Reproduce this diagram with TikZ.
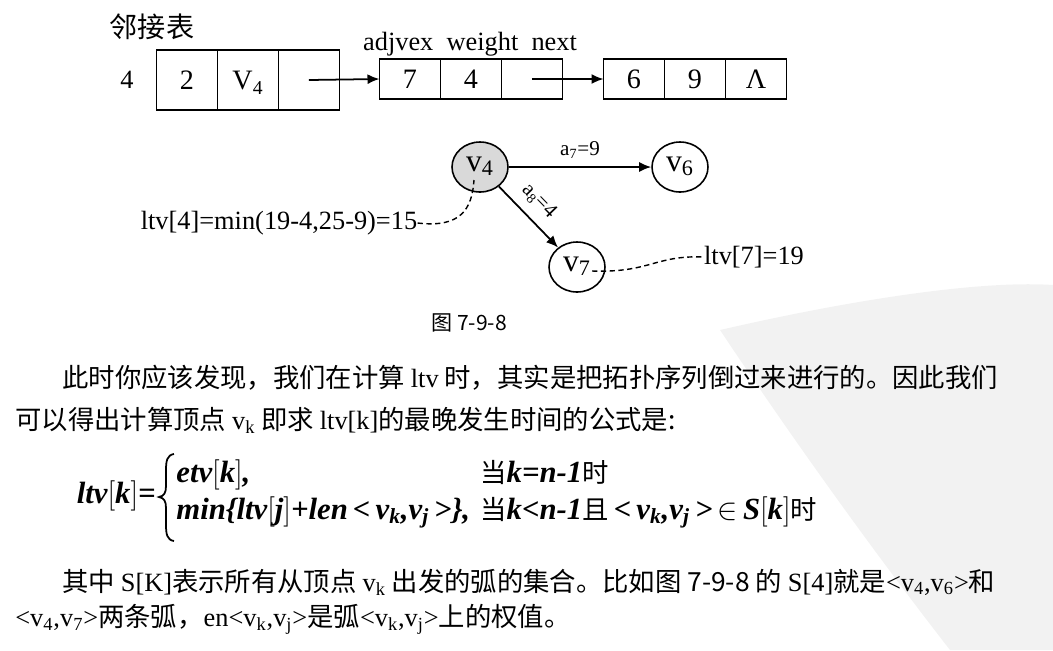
\documentclass[tikz,border=0pt]{standalone}
\usepackage{fontspec}
\setmainfont{Liberation Serif}
\newfontfamily\cjk{Noto Sans CJK SC}
\usetikzlibrary{positioning,shapes.geometric,arrows.meta}
\newcommand\zhn[1]{{\cjk\mdseries\upshape\fontsize{15}{17}\selectfont #1}}
\newcommand\lat[1]{{\rmfamily #1}}
\tikzset{
	cell/.style={draw,line width=0.9pt,outer sep=0pt,inner sep=0pt,minimum width=1.22cm,minimum height=0.8cm,text height=11pt,text depth=0pt,font=\fontsize{16}{18}\selectfont},
	vex/.style={draw,ellipse,line width=0.9pt,inner sep=0pt,minimum width=1.12cm,minimum height=1.0cm,text height=8pt,text depth=3pt,font=\fontsize{18}{20}\selectfont},
	lbl/.style={inner sep=0pt,font=\fontsize{15}{18}\selectfont},
	zhlbl/.style={inner sep=0pt,font=\cjk\fontsize{16}{18}\selectfont},
	para/.style={inner sep=0pt,anchor=west,font=\cjk\fontsize{15}{18}\selectfont},
	fml/.style={inner sep=0pt,anchor=base west,font=\bfseries\itshape\fontsize{17.5}{20}\selectfont},
	arr/.style={line width=1pt},
	lead/.style={dashed,line width=0.8pt,dash pattern=on 3pt off 2pt}
}
\begin{document}
\begin{tikzpicture}[x=0.02cm,y=-0.02cm,>={Latex[length=2.4mm,width=2mm]}]
	\useasboundingbox (0,0) rectangle (1053,650);
	\fill[gray!10] (720,330) .. controls (850,300) and (980,280) .. (1053,285) -- (1053,650) -- (950,650) .. controls (880,560) and (800,450) .. cycle;
	\coordinate (H) at (187,80);
	\coordinate (E1) at (410,79);
	\coordinate (E2) at (634,79);
	\node[cell,minimum height=1.2cm] (h1) at (H) {2};
	\node[cell,minimum height=1.2cm,right=0pt of h1] (h2) {V\textsubscript{4}};
	\node[cell,minimum height=1.2cm,right=0pt of h2] (h3) {};
	\node[cell] (e1a) at (E1) {7};
	\node[cell,right=0pt of e1a] (e1b) {4};
	\node[cell,right=0pt of e1b] (e1c) {};
	\node[cell] (e2a) at (E2) {6};
	\node[cell,right=0pt of e2a] (e2b) {9};
	\node[cell,right=0pt of e2b] (e2c) {Λ};
	\node[lbl] (idx) at (127,80) {4};
	\node[zhlbl] (title) at (152,27) {邻接表};
	\node[lbl] (fields) at (470,44) {adjvex\ \ weight\ \ next};
	\draw[arr,->] (h3.center) -- (e1a.west);
	\draw[arr,->] (e1c.center) -- (e2a.west);
	\node[vex,fill=gray!30] (v4) at (480,167) {v\textsubscript{4}};
	\node[vex] (v6) at (680,167) {v\textsubscript{6}};
	\node[vex] (v7) at (577,267) {v\textsubscript{7}};
	\draw[arr,->] (v4) -- (v6) node[midway,above=1pt,font=\fontsize{12}{13}\selectfont] {a\textsubscript{7}=9};
	\draw[arr,->] (v4) -- (v7) node[pos=0.45,above=2pt,sloped,font=\fontsize{12}{13}\selectfont] {a\textsubscript{8}=4};
	\node[lbl] (l4) at (279,223) {ltv[4]=min(19-4,25-9)=15};
	\node[lbl] (l7) at (754,257) {ltv[7]=19};
	\coordinate (d4) at (474,180);
	\coordinate (d7) at (592,271);
	\draw[lead] (l4.east) .. controls (460,228) and (472,210) .. (d4);
	\draw[lead] (d7) .. controls (650,273) and (655,255) .. (l7.west);
	\node[zhlbl,font=\cjk\fontsize{12}{14}\selectfont] (cap) at (469,323) {图 7-9-8};
	\node[para] (t1) at (62,378) {此时你应该发现，我们在计算 \lat{ltv} 时，其实是把拓扑序列倒过来进行的。因此我们};
	\node[para] (t2) at (15,420) {可以得出计算顶点 \lat{v\textsubscript{k}} 即求 \lat{ltv[k]}的最晚发生时间的公式是:};
	\node[fml,anchor=base east] (lhs) at (156,503) {ltv$\bigl[$k$\bigr]$=};
	\draw[line width=1pt] (174,454) .. controls (167,455) and (166,461) .. (166,470) -- (166,486) .. controls (166,493) and (164,496) .. (159,497) .. controls (164,498) and (166,501) .. (166,508) -- (166,525) .. controls (166,534) and (167,540) .. (174,541);
	\node[fml] (r1) at (176,482) {etv$\bigl[$k$\bigr]$,};
	\node[fml] (r1c) at (480,482) {\zhn{当}k=n-1\zhn{时}};
	\node[fml] (r2) at (176,519) {min\{ltv$\bigl[$j$\bigr]$+len\,<\,v\textsubscript{k},v\textsubscript{j}\,>\},};
	\node[fml] (r2c) at (480,519) {\zhn{当}k<n-1\zhn{且}\,<\,v\textsubscript{k},v\textsubscript{j}\,>\,$\in$\,S$\bigl[$k$\bigr]$\zhn{时}};
	\node[para] (t3) at (62,582) {其中 \lat{S[K]}表示所有从顶点 \lat{v\textsubscript{k}} 出发的弧的集合。比如图 7-9-8 的 \lat{S[4]}就是\lat{<v\textsubscript{4},v\textsubscript{6}>}和};
	\node[para] (t4) at (15,619) {\lat{<v\textsubscript{4},v\textsubscript{7}>}两条弧，\lat{en<v\textsubscript{k},v\textsubscript{j}>}是弧\lat{<v\textsubscript{k},v\textsubscript{j}>}上的权值。};
\end{tikzpicture}
\end{document}
